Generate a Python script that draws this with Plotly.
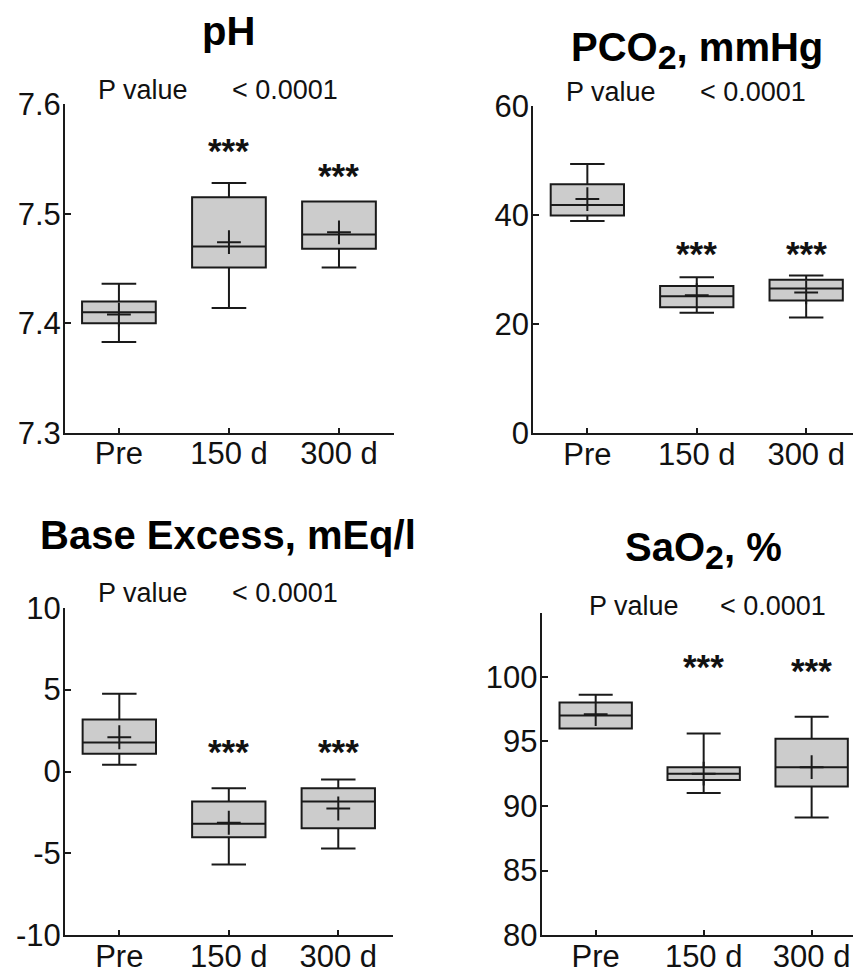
import plotly.graph_objects as go

categories = ["Pre", "150 d", "300 d"]
positions = [0, 1, 2]

# pH
ph_q1 = [7.400, 7.451, 7.468]
ph_med = [7.410, 7.470, 7.481]
ph_q3 = [7.420, 7.515, 7.511]
ph_lo = [7.383, 7.414, 7.451]
ph_hi = [7.436, 7.528, 7.511]
ph_mean = [7.408, 7.474, 7.483]
ph_star = [None, 7.561, 7.538]
ph_ticks = [7.3, 7.4, 7.5, 7.6]
ph_ticktext = ["7.3", "7.4", "7.5", "7.6"]

# PCO2
pco2_q1 = [39.9, 23.1, 24.3]
pco2_med = [41.8, 25.1, 26.5]
pco2_q3 = [45.6, 27.0, 28.1]
pco2_lo = [38.9, 22.1, 21.2]
pco2_hi = [49.3, 28.6, 28.9]
pco2_mean = [42.9, 25.3, 25.8]
pco2_star = [None, 33.7, 33.7]
pco2_ticks = [0, 20, 40, 60]
pco2_ticktext = ["0", "20", "40", "60"]

# Base excess
be_q1 = [1.08, -4.01, -3.46]
be_med = [1.77, -3.19, -1.83]
be_q3 = [3.17, -1.83, -1.02]
be_lo = [0.41, -5.68, -4.70]
be_hi = [4.74, -1.02, -0.49]
be_mean = [2.09, -3.13, -2.26]
be_star = [None, 1.48, 1.48]
be_ticks = [-10, -5, 0, 5, 10]
be_ticktext = ["-10", "-5", "0", "5", "10"]

# SaO2
sao2_q1 = [96.0, 92.0, 91.5]
sao2_med = [97.0, 92.5, 93.0]
sao2_q3 = [98.0, 93.0, 95.2]
sao2_lo = [96.0, 91.0, 89.1]
sao2_hi = [98.6, 95.6, 96.9]
sao2_mean = [97.1, 92.5, 93.0]
sao2_star = [None, 101.1, 100.8]
sao2_ticks = [80, 85, 90, 95, 100]
sao2_ticktext = ["80", "85", "90", "95", "100"]

SUB2 = "<sub><span style='font-size:34px'>2</span></sub>"
titles = ["pH", "PCO" + SUB2 + ", mmHg", "Base Excess, mEq/l", "SaO" + SUB2 + ", %"]
p_label = "P value"
p_text = "< 0.0001"

W, H = 853, 970
FONT = "Liberation Sans, Arial, sans-serif"
LINE = "#1a1a1a"
FILL = "rgb(204,204,204)"

panels = [
    dict(q1=ph_q1, med=ph_med, q3=ph_q3, lo=ph_lo, hi=ph_hi, mean=ph_mean, star=ph_star,
         tv=ph_ticks, tt=ph_ticktext,
         xdom=(65, 394), ydom=(104, 433), xr=[-0.49, 2.5], yr=[7.3, 7.6],
         title_xy=(229, 31), p_xy=(96, 90), lt_x=230),
    dict(q1=pco2_q1, med=pco2_med, q3=pco2_q3, lo=pco2_lo, hi=pco2_hi, mean=pco2_mean, star=pco2_star,
         tv=pco2_ticks, tt=pco2_ticktext,
         xdom=(533.3, 853), ydom=(105.7, 433.3), xr=[-0.494, 2.428], yr=[0, 60],
         title_xy=(697, 50), p_xy=(564, 92), lt_x=698),
    dict(q1=be_q1, med=be_med, q3=be_q3, lo=be_lo, hi=be_hi, mean=be_mean, star=be_star,
         tv=be_ticks, tt=be_ticktext,
         xdom=(65, 392.7), ydom=(607.7, 935.3), xr=[-0.496, 2.497], yr=[-10, 10],
         title_xy=(228, 535), p_xy=(96, 593), lt_x=230),
    dict(q1=sao2_q1, med=sao2_med, q3=sao2_q3, lo=sao2_lo, hi=sao2_hi, mean=sao2_mean, star=sao2_star,
         tv=sao2_ticks, tt=sao2_ticktext,
         xdom=(541.7, 853), ydom=(613.3, 935.3), xr=[-0.5, 2.383], yr=[80, 104.9],
         title_xy=(703, 550), p_xy=(587, 606), lt_x=718),
]

fig = go.Figure()
annotations = []
layout = {}

for i, p in enumerate(panels):
    n = "" if i == 0 else str(i + 1)
    xa, ya = "x" + n, "y" + n
    fig.add_trace(go.Box(
        x=positions, q1=p["q1"], median=p["med"], q3=p["q3"],
        lowerfence=p["lo"], upperfence=p["hi"],
        width=0.67, whiskerwidth=0.47, fillcolor=FILL,
        line=dict(color=LINE, width=2), boxpoints=False,
        xaxis=xa, yaxis=ya, showlegend=False, hoverinfo="skip",
    ))
    fig.add_trace(go.Scatter(
        x=positions, y=p["mean"], mode="markers",
        marker=dict(symbol="cross-thin", size=17, line=dict(color=LINE, width=2), color=LINE),
        xaxis=xa, yaxis=ya, showlegend=False, hoverinfo="skip",
    ))
    layout["xaxis" + n] = dict(
        domain=[p["xdom"][0] / W, p["xdom"][1] / W], range=p["xr"], anchor=ya,
        tickmode="array", tickvals=positions, ticktext=categories, automargin=False,
        showline=True, linecolor=LINE, linewidth=2, ticks="inside", ticklen=5,
        tickcolor=LINE, tickwidth=1.5, showgrid=False, zeroline=False,
        ticklabelstandoff=-8,
        tickfont=dict(family=FONT, size=31, color="#111"),
    )
    layout["yaxis" + n] = dict(
        domain=[1 - p["ydom"][1] / H, 1 - p["ydom"][0] / H], range=p["yr"], anchor=xa,
        tickmode="array", tickvals=p["tv"], ticktext=p["tt"], automargin=False,
        showline=True, linecolor=LINE, linewidth=2, ticks="inside", ticklen=6,
        tickcolor=LINE, tickwidth=1.5, showgrid=False, zeroline=False,
        ticklabelstandoff=-4,
        tickfont=dict(family=FONT, size=31, color="#111"),
    )
    annotations.append(dict(
        text="<b>" + titles[i] + "</b>", xref="paper", yref="paper",
        x=p["title_xy"][0] / W, y=1 - p["title_xy"][1] / H, xanchor="center", yanchor="middle",
        showarrow=False, font=dict(family=FONT, size=40, color="#000"),
    ))
    annotations.append(dict(
        text=p_label, xref="paper", yref="paper",
        x=p["p_xy"][0] / W, y=1 - p["p_xy"][1] / H, xanchor="left", yanchor="middle",
        showarrow=False, font=dict(family=FONT, size=27, color="#111"),
    ))
    annotations.append(dict(
        text=p_text, xref="paper", yref="paper",
        x=p["lt_x"] / W, y=1 - p["p_xy"][1] / H, xanchor="left", yanchor="middle",
        showarrow=False, font=dict(family=FONT, size=27, color="#111"),
    ))
    for xi, s in zip(positions, p["star"]):
        if s is None:
            continue
        annotations.append(dict(
            text="<b>***</b>", xref=xa, yref=ya, x=xi, y=s, xanchor="center", yanchor="middle",
            yshift=-4, showarrow=False, font=dict(family=FONT, size=35, color="#111"),
        ))

fig.update_layout(
    width=W, height=H, margin=dict(l=0, r=0, t=0, b=0),
    paper_bgcolor="white", plot_bgcolor="white",
    annotations=annotations, **layout,
)

fig.write_html("out.html", config={"displayModeBar": False},
               post_script="document.body.style.margin='0';")
